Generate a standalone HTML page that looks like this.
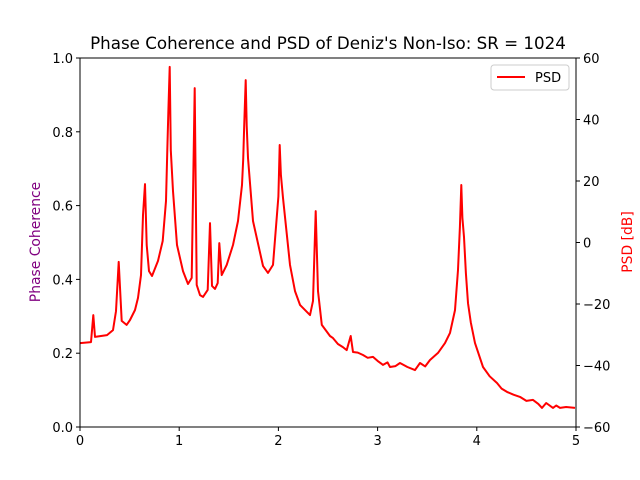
<!DOCTYPE html>
<html><head><meta charset="utf-8"><style>
body{margin:0;background:#fff}
svg{display:block;font-family:"DejaVu Sans","Liberation Sans",sans-serif}
</style></head><body>
<svg id="chart" width="640" height="480">
<rect x="0" y="0" width="640" height="480" fill="#fff"/>
<text x="328" y="49" text-anchor="middle" font-size="16.7">Phase Coherence and PSD of Deniz's Non-Iso: SR = 1024</text>
<g id="axes"></g>
<path id="psd-line" fill="none" stroke="#ff0000" stroke-width="2" stroke-linejoin="round"/>
<rect x="80" y="58" width="496" height="369" fill="none" stroke="#000" stroke-width="1"/>
<g>
<rect x="491" y="65" width="78" height="25" rx="3" fill="#fff" stroke="#ccc"/>
<line x1="497" y1="77" x2="525" y2="77" stroke="#ff0000" stroke-width="2"/>
<text x="535" y="82" font-size="13">PSD</text>
</g>
<text transform="translate(40,242) rotate(-90)" text-anchor="middle" font-size="13.9" fill="#800080">Phase Coherence</text>
<text transform="translate(632,242) rotate(-90)" text-anchor="middle" font-size="13.9" fill="#ff0000">PSD [dB]</text>
</svg>
<script>
const freq=[0,0.111,0.134,0.151,0.272,0.333,0.363,0.39,0.42,0.47,0.504,0.554,0.585,0.615,0.635,0.655,0.672,0.696,0.726,0.786,0.834,0.867,0.88,0.89,0.904,0.915,0.9375,0.978,1.038,1.089,1.126,1.156,1.176,1.21,1.24,1.287,1.31,1.331,1.361,1.388,1.404,1.428,1.479,1.542,1.593,1.633,1.645,1.655,1.67,1.68,1.694,1.744,1.845,1.895,1.946,2.0,2.013,2.025,2.046,2.117,2.167,2.218,2.319,2.349,2.376,2.399,2.437,2.52,2.55,2.6,2.65,2.689,2.729,2.752,2.8,2.853,2.9,2.954,3.0,3.054,3.1,3.125,3.18,3.226,3.3,3.377,3.427,3.48,3.528,3.609,3.679,3.73,3.78,3.81,3.83,3.844,3.855,3.871,3.89,3.911,3.94,3.982,4.062,4.13,4.204,4.25,4.304,4.37,4.435,4.5,4.567,4.62,4.657,4.7,4.768,4.8,4.839,4.9,4.99];
const psdDb=[-32.7,-32.4,-23.6,-30.7,-30.1,-28.5,-22.3,-6.3,-25.5,-26.8,-25.2,-21.95,-18.0,-10.6,8.9,19.0,-0.8,-9.3,-10.9,-6.0,0.5,13.5,30,42,57.1,30,16.7,-0.8,-9.3,-13.5,-11.5,50.2,-13.8,-17.1,-17.7,-15.4,6.3,-14.1,-15.1,-13.2,-0.2,-10.6,-7.3,-0.8,7.0,18.7,27,38,52.8,38,27.5,7.0,-7.6,-9.9,-7.3,15,31.7,22,14.5,-7.3,-15.8,-20.3,-23.6,-19.0,10.2,-15.8,-26.8,-30.4,-31.1,-33,-34,-35.0,-30.4,-35.6,-35.8,-36.6,-37.5,-37.2,-38.5,-39.8,-39,-40.5,-40.2,-39.2,-40.5,-41.5,-39.2,-40.3,-38.2,-35.9,-32.7,-29.4,-22.0,-8.9,5,18.7,8,1.8,-10,-19.7,-26,-32.7,-40.5,-43.5,-45.7,-47.5,-48.6,-49.5,-50.2,-51.5,-51.2,-52.5,-53.8,-52.2,-53.8,-53,-53.8,-53.5,-53.8];
const xTicks=[0,1,2,3,4,5];
const leftTicks=[0.0,0.2,0.4,0.6,0.8,1.0];
const rightTicks=[-60,-40,-20,0,20,40,60];
const X0=80,X1=576,Y0=58,Y1=427;
const xs=v=>X0+(v-0)/(5-0)*(X1-X0);
const yl=v=>Y1-(v-0)/(1-0)*(Y1-Y0);
const yr=v=>Y1-(v+60)/120*(Y1-Y0);
const NS="http://www.w3.org/2000/svg";
const ax=document.getElementById('axes');
function mk(tag,attrs,txt){const e=document.createElementNS(NS,tag);for(const k in attrs)e.setAttribute(k,attrs[k]);if(txt!==undefined)e.textContent=txt;ax.appendChild(e);return e;}
xTicks.forEach(t=>{
 const l=mk('line',{x1:xs(t),x2:xs(t),y1:Y1,y2:Y1+4,stroke:'#000'});
 
 
 const s=mk('text',{x:xs(t),y:Y1+18,'text-anchor':'middle','font-size':13},String(t));
 
 
});
leftTicks.forEach(t=>{
 const l=mk('line',{x1:X0-4,x2:X0,y1:yl(t),y2:yl(t),stroke:'#000'});
 
 
 const s=mk('text',{x:X0-7,y:yl(t)+5,'text-anchor':'end','font-size':13},t.toFixed(1));
 
 
});
rightTicks.forEach(t=>{
 const l=mk('line',{x1:X1,x2:X1+4,y1:yr(t),y2:yr(t),stroke:'#000'});
 
 
 const s=mk('text',{x:X1+7,y:yr(t)+5,'text-anchor':'start','font-size':13},t<0?'\u2212'+(-t):String(t));
 
 
});
document.getElementById('psd-line').setAttribute('d',freq.map((f,i)=>(i?'L':'M')+xs(f).toFixed(1)+','+yr(psdDb[i]).toFixed(1)).join(''));
</script>
</body></html>
